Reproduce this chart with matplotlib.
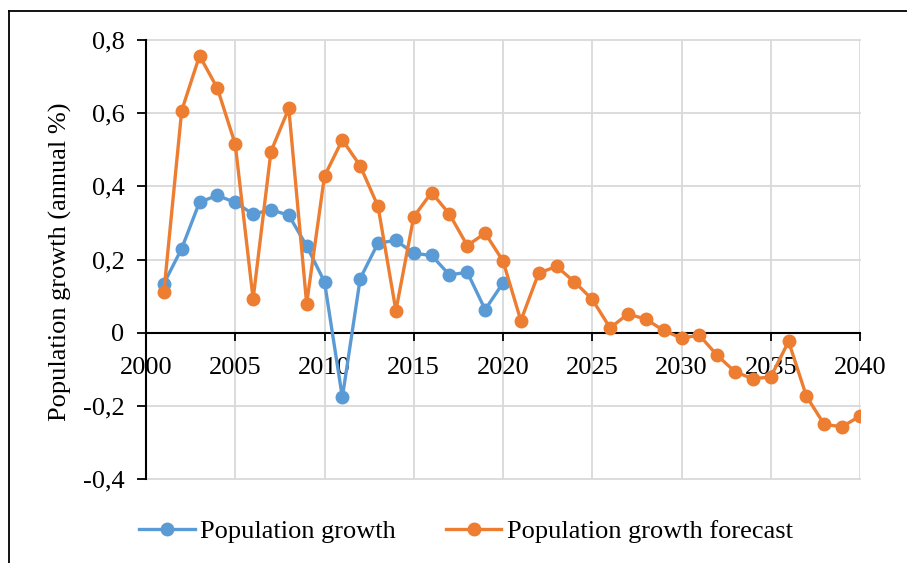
import matplotlib
matplotlib.use("Agg")
import matplotlib.pyplot as plt
from matplotlib.lines import Line2D

plt.rcParams['font.family'] = ['Liberation Serif', 'DejaVu Serif']

years_hist = list(range(2001, 2021))
growth_hist = [0.134, 0.230, 0.357, 0.375, 0.356, 0.324, 0.336, 0.321, 0.237, 0.139,
               -0.177, 0.148, 0.245, 0.252, 0.217, 0.211, 0.158, 0.165, 0.063, 0.136]

years_fc = list(range(2001, 2041))
growth_fc = [0.110, 0.607, 0.757, 0.668, 0.515, 0.092, 0.495, 0.613, 0.079, 0.428,
             0.527, 0.456, 0.345, 0.060, 0.317, 0.383, 0.324, 0.238, 0.272, 0.196,
             0.033, 0.163, 0.181, 0.139, 0.091, 0.013, 0.051, 0.037, 0.006, -0.015,
             -0.007, -0.062, -0.107, -0.126, -0.121, -0.024, -0.174, -0.251, -0.257, -0.228]

x_ticks = [2000, 2005, 2010, 2015, 2020, 2025, 2030, 2035, 2040]
y_ticks = [-0.4, -0.2, 0.0, 0.2, 0.4, 0.6, 0.8]
y_tick_labels = ['-0,4', '-0,2', '0', '0,2', '0,4', '0,6', '0,8']

series_labels = ['Population growth', 'Population growth forecast']
y_title = 'Population growth (annual %)'

BLUE = '#5B9BD5'
ORANGE = '#ED7D31'
GRID = '#D9D9D9'

W, H = 907, 563
fig = plt.figure(figsize=(W / 100, H / 100), dpi=100)
ax = fig.add_axes([146 / W, 1 - 479 / H, (860 - 146) / W, (479 - 40) / H])

ax.plot(years_hist, growth_hist, color=BLUE, lw=2.4, marker='o', ms=9,
        label=series_labels[0], zorder=3)
ax.plot(years_fc, growth_fc, color=ORANGE, lw=2.4, marker='o', ms=9,
        label=series_labels[1], zorder=4)

ax.set_xlim(2000, 2040)
ax.set_ylim(-0.4, 0.8)
ax.set_xticks(x_ticks)
ax.set_xticklabels([str(v) for v in x_ticks])
ax.set_yticks(y_ticks)
ax.set_yticklabels(y_tick_labels)

ax.grid(True, color=GRID, lw=1.3, zorder=0)
for gl in ax.get_xgridlines() + ax.get_ygridlines():
    gl.set_clip_on(False)
ax.set_axisbelow(True)

for side in ('top', 'right'):
    ax.spines[side].set_visible(False)
ax.spines['bottom'].set_position(('data', 0))
ax.spines['bottom'].set_linewidth(1.5)
ax.spines['left'].set_linewidth(1.5)
ax.spines['bottom'].set_zorder(2)

ax.tick_params(axis='x', direction='out', length=5.5, width=1.3, pad=12,
               labelsize=19)
ax.tick_params(axis='y', direction='out', length=6.5, width=1.3, pad=9,
               labelsize=19)

fig.text(60 / W, 1 - 262 / H, y_title, rotation=90, ha='center', va='center',
         fontsize=19)

leg = fig.legend(loc='center', bbox_to_anchor=(466 / W, 1 - 531 / H), ncol=2,
                 frameon=False, fontsize=19, handlelength=2.1, handletextpad=0.2,
                 columnspacing=1.9)

# outer chart frame (top and left edges)
fig.add_artist(Line2D([9 / W, 9 / W], [0, 1 - 10.5 / H], color='black', lw=1.3,
                      transform=fig.transFigure))
fig.add_artist(Line2D([9 / W, 1], [1 - 10.5 / H, 1 - 10.5 / H], color='black',
                      lw=1.3, transform=fig.transFigure))

fig.savefig('out.png', dpi=100)
